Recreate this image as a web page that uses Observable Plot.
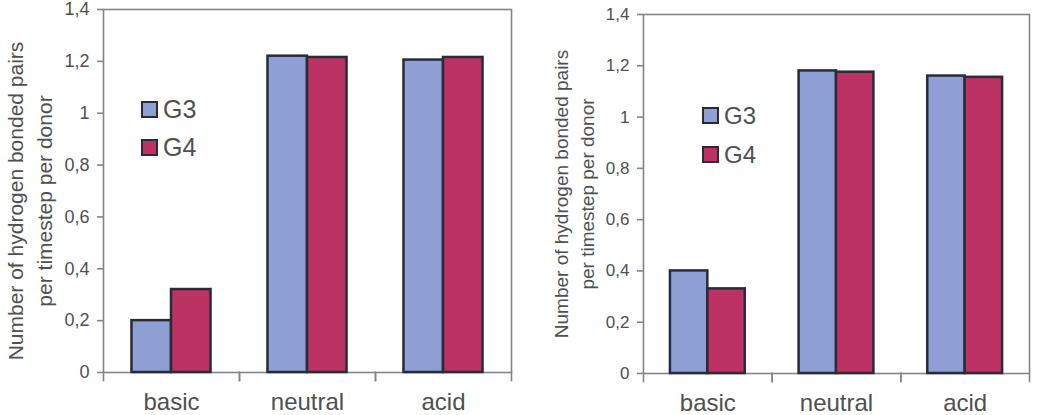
<!DOCTYPE html>
<html>
<head>
<meta charset="utf-8">
<script src="https://cdn.jsdelivr.net/npm/d3@7"></script>
<script src="https://cdn.jsdelivr.net/npm/@observablehq/plot@0.6"></script>
<style>
  body { margin: 0; background: #fff; }
  #wrap { display: flex; width: 1039px; height: 415px; }
  svg { display: block; }
</style>
</head>
<body>
<div id="wrap"></div>
<script>
// Hydrogen-bonded pairs per timestep per donor, G3 vs G4 dendrimers, two panels
const categories = ["basic", "neutral", "acid"];
const series = ["G3", "G4"];
const leftG3 = [0.20, 1.22, 1.205];
const leftG4 = [0.32, 1.215, 1.215];
const rightG3 = [0.40, 1.18, 1.16];
const rightG4 = [0.33, 1.175, 1.155];
const yTicks = [0, 0.2, 0.4, 0.6, 0.8, 1, 1.2, 1.4];
const yTitle = "Number of hydrogen bonded pairs\nper timestep per donor";
const colors = ["#8e9fd5", "#bd3264"];

const FONT = "'Liberation Sans', Arial, sans-serif";
const TEXT = "#505050";
const AXIS = "#858585";

function rows(g3, g4) {
  return categories.flatMap((c, i) => [
    {cat: c, series: "G3", value: g3[i]},
    {cat: c, series: "G4", value: g4[i]}
  ]);
}

function chart(data, o) {
  const innerH = o.height - o.marginTop - o.marginBottom;
  const svg = Plot.plot({
    width: o.width,
    height: o.height,
    marginLeft: o.marginLeft,
    marginRight: o.marginRight,
    marginTop: o.marginTop,
    marginBottom: o.marginBottom,
    style: {fontFamily: FONT, color: TEXT, background: "transparent"},
    fx: {domain: categories, paddingInner: 0, paddingOuter: 0, round: false, axis: null},
    x: {domain: series, paddingInner: 0, paddingOuter: 0.72, round: false, axis: null},
    y: {domain: [0, 1.4], axis: null},
    color: {domain: series, range: colors},
    marks: [
      Plot.frame({facet: "super", stroke: AXIS, strokeWidth: 1.6}),
      // category boundary ticks below the baseline
      Plot.frame({anchor: "left", insetTop: innerH, insetBottom: -8, stroke: AXIS, strokeWidth: 1.6}),
      Plot.frame({anchor: "right", insetTop: innerH, insetBottom: -8, stroke: AXIS, strokeWidth: 1.6}),
      Plot.barY(data, {fx: "cat", x: "series", y: "value", fill: "series", stroke: "#2b2b36", strokeWidth: 2.5}),
      Plot.axisY({
        ticks: yTicks,
        tickFormat: d => String(d).replace(".", ","),
        tickSize: 6,
        tickPadding: 8,
        fontSize: o.tickFont,
        stroke: AXIS,
        strokeWidth: 1.6,
        fill: TEXT,
        label: null
      }),
      Plot.axisFx({anchor: "bottom", tickSize: 0, tickPadding: 20, fontSize: 24, fill: TEXT, label: null}),
      Plot.text([yTitle], {
        facet: "super",
        text: d => d,
        frameAnchor: "left",
        textAnchor: "middle",
        lineAnchor: "middle",
        rotate: -90,
        dx: o.titleDx,
        dy: o.titleDy,
        fontSize: o.titleFont,
        lineHeight: 1.37,
        fill: TEXT
      })
    ]
  });

  // legend: swatch + series name
  const lg = d3.select(svg).append("g")
    .attr("font-family", FONT)
    .attr("text-anchor", "start");
  series.forEach((s, i) => {
    const y = o.legendY + i * o.legendGap;
    lg.append("rect")
      .attr("x", o.legendX).attr("y", y)
      .attr("width", 15).attr("height", 15)
      .attr("fill", colors[i]).attr("stroke", "#2b2b36").attr("stroke-width", 2);
    lg.append("text")
      .attr("x", o.legendX + 21).attr("y", y + 16)
      .attr("font-size", o.legendFont).attr("fill", TEXT)
      .text(s);
  });
  return svg;
}

const wrap = document.getElementById("wrap");
wrap.append(chart(rows(leftG3, leftG4), {
  width: 520, height: 415,
  marginLeft: 103, marginRight: 9, marginTop: 9, marginBottom: 43,
  tickFont: 18, titleFont: 21, titleDx: -75.5, titleDy: 10,
  legendX: 142, legendY: 102, legendGap: 38, legendFont: 25
}));
wrap.append(chart(rows(rightG3, rightG4), {
  width: 519, height: 415,
  marginLeft: 123, marginRight: 10, marginTop: 14, marginBottom: 42,
  tickFont: 17, titleFont: 19, titleDx: -71, titleDy: 0,
  legendX: 183, legendY: 108, legendGap: 39, legendFont: 24
}));
</script>
</body>
</html>
